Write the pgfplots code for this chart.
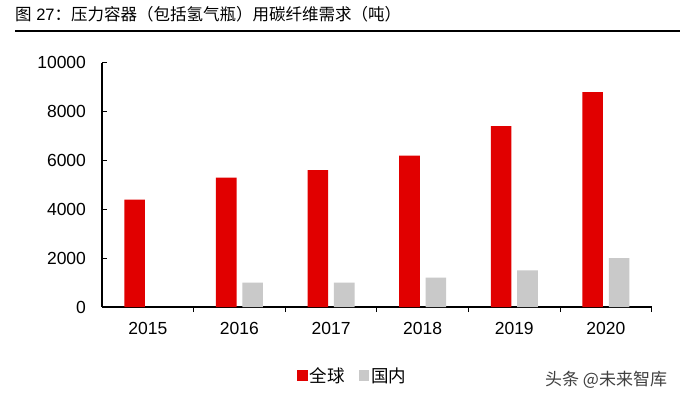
\documentclass[border=0pt]{standalone}
\usepackage{pgfplots}
\pgfplotsset{compat=1.18}
\usepackage{fontspec}
\setmainfont{Liberation Sans}
\newfontfamily\cjk{Noto Sans CJK SC}
\definecolor{barred}{RGB}{225,0,0}
\definecolor{bargray}{RGB}{201,201,201}
\begin{document}
\begin{tikzpicture}
\useasboundingbox (0pt,0pt) rectangle (680pt,399pt);
\fill[white] (0pt,0pt) rectangle (680pt,399pt);
\node[anchor=west, inner sep=0pt, font=\fontsize{16.5}{19}\selectfont] at (15pt,384.5pt) {{\cjk 图} 27{\cjk ：压力容器（包括氢气瓶）用碳纤维需求（吨）}};
\draw[line width=2pt] (15pt,367.5pt) -- (680pt,367.5pt);
\node[anchor=west, inner sep=0pt, text=black!75, font=\fontsize{17}{20}\selectfont\cjk] at (545pt,19pt) {头条 @未来智库};
\begin{axis}[
  at={(102pt,92pt)}, anchor=south west, scale only axis,
  width=549.7pt, height=244.3pt,
  ymin=0, ymax=10000, xmin=-0.5, xmax=5.5,
  axis lines*=left,
  axis line style={line width=1.2pt, black},
  tick align=inside,
  major tick length=5pt,
  tick style={line width=1pt, black},
  xtick={0.5,1.5,2.5,3.5,4.5,5.5},
  xticklabels={},
  extra x ticks={0,1,2,3,4,5},
  extra x tick labels={2015,2016,2017,2018,2019,2020},
  extra x tick style={major tick length=0pt},
  ytick={0,2000,4000,6000,8000,10000},
  tick label style={font=\fontsize{17.5}{20}\selectfont},
  yticklabel style={xshift=-12.5pt},
  xticklabel style={yshift=-12pt},
  /pgf/number format/1000 sep={},
  /pgf/number format/assume math mode=true,
  scaled y ticks=false,
  ybar=5.8pt, bar width=20.6pt,
  legend style={at={(0.4566,-0.281)}, anchor=center, draw=none, fill=none,
    legend columns=2, font=\fontsize{17.5}{20}\selectfont\cjk,
    /tikz/every even column/.append style={column sep=12pt}},
]
\addplot[fill=barred, draw=none, legend image code/.code={\fill[barred] (-1.5pt,-5.25pt) rectangle (9pt,5.25pt);}]
  coordinates {(0,4400) (1,5300) (2,5600) (3,6200) (4,7400) (5,8800)};
\addlegendentry{全球}
\addplot[fill=bargray, draw=none, legend image code/.code={\fill[bargray] (-1.5pt,-5.25pt) rectangle (9pt,5.25pt);}]
  coordinates {(1,1000) (2,1000) (3,1200) (4,1500) (5,2000)};
\addlegendentry{国内}
\end{axis}
\end{tikzpicture}
\end{document}
